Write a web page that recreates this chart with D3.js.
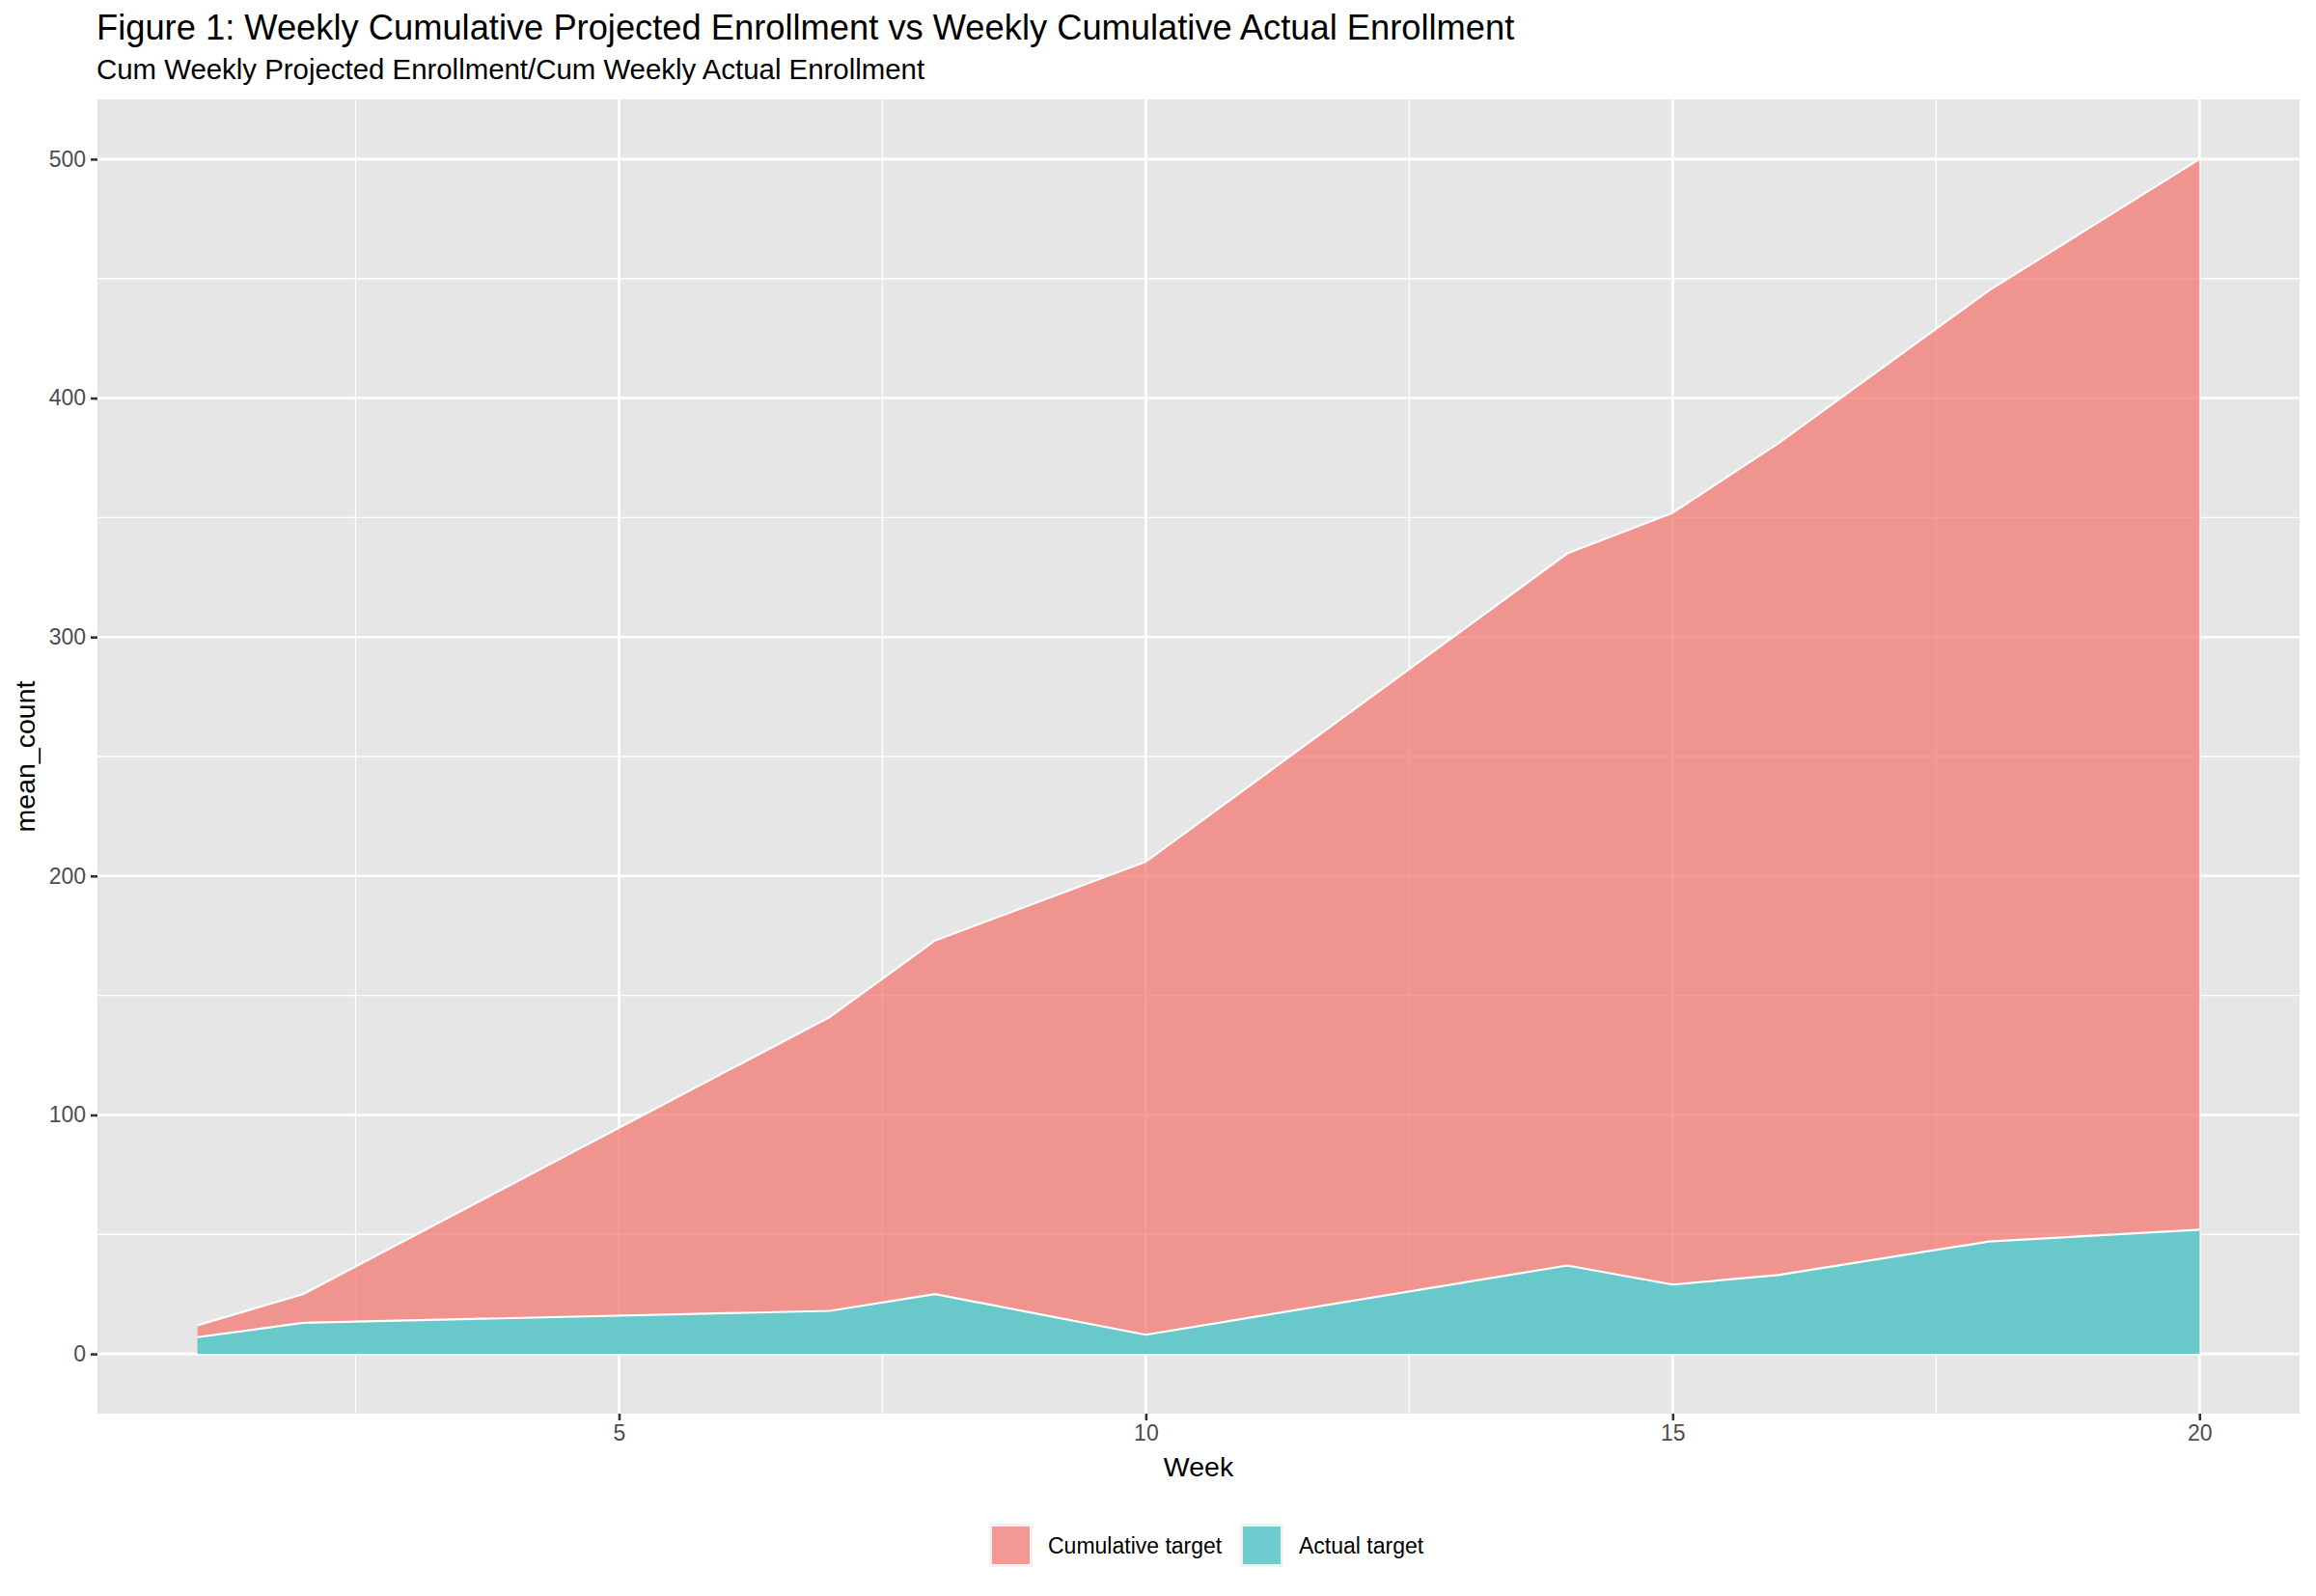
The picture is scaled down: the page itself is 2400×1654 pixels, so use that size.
<!DOCTYPE html>
<html>
<head>
<meta charset="utf-8">
<script src="https://cdn.jsdelivr.net/npm/d3@7"></script>
<style>
  body { margin: 0; background: #fff; }
  svg { display: block; font-family: "Liberation Sans", Arial, sans-serif; }
</style>
</head>
<body>
<script>
const weeks = [1, 2, 7, 8, 10, 14, 15, 16, 18, 20];
const cumulativeTarget = [12, 25, 141, 173, 206, 335, 352, 381, 445, 500];
const actualTarget = [7, 13, 18, 25, 8, 37, 29, 33, 47, 52];
const seriesNames = ["Cumulative target", "Actual target"];
const xTicks = [5, 10, 15, 20];
const xMinor = [2.5, 7.5, 12.5, 17.5];
const yTicks = [0, 100, 200, 300, 400, 500];
const yMinor = [50, 150, 250, 350, 450];

const width = 2400, height = 1654;
const m = {left: 101, right: 2383, top: 103, bottom: 1465};

const x = d3.scaleLinear().domain([0.05, 20.95]).range([m.left, m.right]);
const y = d3.scaleLinear().domain([-25, 525]).range([m.bottom, m.top]);

const svg = d3.select("body").append("svg")
    .attr("width", width)
    .attr("height", height);

svg.append("rect")
    .attr("x", m.left).attr("y", m.top)
    .attr("width", m.right - m.left).attr("height", m.bottom - m.top)
    .attr("fill", "#E6E6E6");

const grid = svg.append("g").attr("stroke", "#fff");
grid.selectAll(".yminor").data(yMinor).join("line")
    .attr("x1", m.left).attr("x2", m.right)
    .attr("y1", d => y(d)).attr("y2", d => y(d))
    .attr("stroke-width", 1.3);
grid.selectAll(".xminor").data(xMinor).join("line")
    .attr("y1", m.top).attr("y2", m.bottom)
    .attr("x1", d => x(d)).attr("x2", d => x(d))
    .attr("stroke-width", 1.3);
grid.selectAll(".ymajor").data(yTicks).join("line")
    .attr("x1", m.left).attr("x2", m.right)
    .attr("y1", d => y(d)).attr("y2", d => y(d))
    .attr("stroke-width", 2.6);
grid.selectAll(".xmajor").data(xTicks).join("line")
    .attr("y1", m.top).attr("y2", m.bottom)
    .attr("x1", d => x(d)).attr("x2", d => x(d))
    .attr("stroke-width", 2.6);

const series = [
  {name: seriesNames[0], values: cumulativeTarget, fill: "#F3756E", opacity: 0.72, key: "#F19A95"},
  {name: seriesNames[1], values: actualTarget, fill: "#4AD3D7", opacity: 0.82, key: "#6ECCCE"}
];

const area = d3.area()
    .x((d, i) => x(weeks[i]))
    .y0(y(0))
    .y1(d => y(d));
const line = d3.line()
    .x((d, i) => x(weeks[i]))
    .y(d => y(d));

series.forEach(s => {
  svg.append("path")
      .attr("d", area(s.values))
      .attr("fill", s.fill)
      .attr("fill-opacity", s.opacity);
  svg.append("path")
      .attr("d", line(s.values))
      .attr("fill", "none")
      .attr("stroke", "#fff")
      .attr("stroke-width", 2.2)
      .attr("stroke-linejoin", "round");
});

// axes
const xAxis = svg.append("g")
    .attr("transform", `translate(0,${m.bottom})`)
    .call(d3.axisBottom(x).tickValues(xTicks).tickSize(7).tickPadding(5));
const yAxis = svg.append("g")
    .attr("transform", `translate(${m.left},0)`)
    .call(d3.axisLeft(y).tickValues(yTicks).tickSize(7).tickPadding(5));

[xAxis, yAxis].forEach(a => {
  a.select(".domain").remove();
  a.selectAll(".tick line").attr("stroke", "#333333").attr("stroke-width", 2.6);
  a.selectAll(".tick text")
      .attr("fill", "#4D4D4D")
      .style("font-size", "23px")
      .style("font-family", "Liberation Sans, Arial, sans-serif");
});

svg.append("text")
    .attr("x", m.left - 1).attr("y", 41)
    .style("font-size", "36.3px")
    .text("Figure 1: Weekly Cumulative Projected Enrollment vs Weekly Cumulative Actual Enrollment");
svg.append("text")
    .attr("x", m.left - 1).attr("y", 82)
    .style("font-size", "29.4px")
    .text("Cum Weekly Projected Enrollment/Cum Weekly Actual Enrollment");

svg.append("text")
    .attr("x", (m.left + m.right) / 2).attr("y", 1530)
    .attr("text-anchor", "middle")
    .style("font-size", "28.5px")
    .text("Week");
svg.append("text")
    .attr("transform", `translate(36,${(m.top + m.bottom) / 2}) rotate(-90)`)
    .attr("text-anchor", "middle")
    .style("font-size", "28.5px")
    .text("mean_count");

// legend
const legendX = [1025, 1285];
const legend = svg.append("g").selectAll("g")
    .data(series)
    .join("g")
      .attr("transform", (d, i) => `translate(${legendX[i]},1579)`);
legend.append("rect")
    .attr("width", 45).attr("height", 45)
    .attr("fill", "#F2F2F2");
legend.append("rect")
    .attr("x", 3).attr("y", 3)
    .attr("width", 39).attr("height", 39)
    .attr("fill", d => d.key);
legend.append("text")
    .attr("x", 61).attr("y", 22.5)
    .attr("dy", "0.35em")
    .style("font-size", "23px")
    .text(d => d.name);
</script>
</body>
</html>
